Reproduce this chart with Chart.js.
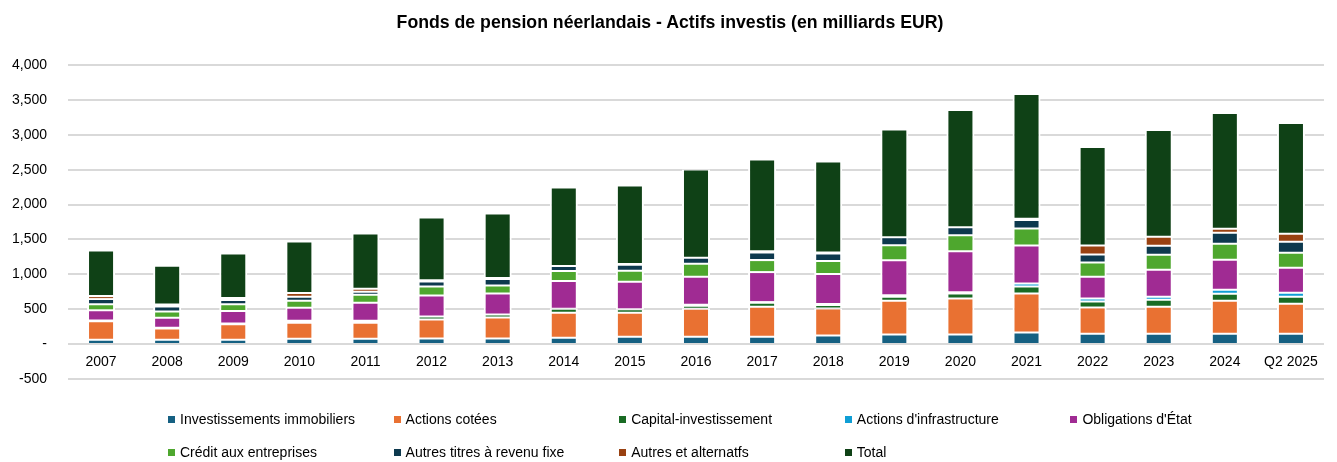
<!DOCTYPE html>
<html>
<head>
<meta charset="utf-8">
<script src="https://cdn.jsdelivr.net/npm/chart.js@4.4.1/dist/chart.umd.min.js"></script>
<style>
  html, body { margin: 0; padding: 0; background: #fff; }
  #wrap { position: relative; width: 1337px; height: 462px; }
  #overlay { position: absolute; left: 0; top: 0; width: 1337px; height: 462px; pointer-events: none;
    font-family: "Liberation Sans", Arial, sans-serif; font-size: 14px; color: #000; }
  #title { position: absolute; left: 670px; top: 22px; transform: translate(-50%, -50%);
    font-weight: bold; font-size: 17.7px; white-space: nowrap; }
  .item { position: absolute; display: flex; align-items: center; white-space: nowrap; transform: translateY(-50%); }
  .item span.box { display: inline-block; width: 7px; height: 7px; margin-right: 5px; }
</style>
</head>
<body>
<div id="wrap">
  <canvas id="fonds" width="1337" height="462"></canvas>
  <div id="overlay">
    <div id="title">Fonds de pension néerlandais - Actifs investis (en milliards EUR)</div>
  </div>
</div>
<script>
const categories = ['2007', '2008', '2009', '2010', '2011', '2012', '2013', '2014', '2015', '2016',
  '2017', '2018', '2019', '2020', '2021', '2022', '2023', '2024', 'Q2 2025'];

// milliards EUR
const immobilier = [62, 63, 62, 76, 76, 79, 79, 90, 105, 105, 105, 122, 136, 136, 165, 150, 150, 150, 150];
const actionsCotees = [265, 160, 222, 229, 229, 272, 301, 358, 344, 401, 430, 387, 487, 516, 559, 373, 387, 473, 430];
const capitalInv = [10, 10, 10, 29, 29, 43, 43, 57, 50, 43, 57, 50, 57, 72, 100, 86, 100, 100, 100];
const infrastructure = [0, 0, 0, 0, 0, 0, 0, 0, 0, 15, 10, 15, 20, 20, 43, 43, 43, 57, 57];
const obligationsEtat = [150, 146, 179, 186, 258, 301, 301, 401, 394, 401, 430, 430, 502, 588, 545, 315, 387, 430, 358];
const creditEntreprises = [83, 87, 97, 100, 115, 129, 115, 143, 158, 186, 172, 186, 215, 229, 244, 201, 215, 229, 215];
const autresRevenuFixe = [75, 73, 62, 57, 43, 72, 93, 72, 86, 86, 108, 108, 115, 115, 122, 115, 129, 158, 158];
const autresAlternatifs = [43, 29, 29, 55, 43, 20, 15, 0, 10, 0, 20, 15, 0, 0, 20, 129, 129, 57, 115];
const total = [655, 555, 636, 738, 791, 898, 924, 1123, 1125, 1265, 1313, 1303, 1543, 1678, 1786, 1412, 1527, 1657, 1585];

const seriesNames = ['Investissements immobiliers', 'Actions cotées', 'Capital-investissement',
  "Actions d'infrastructure", "Obligations d'État", 'Crédit aux entreprises',
  'Autres titres à revenu fixe', 'Autres et alternatfs', 'Total'];
const seriesData = [immobilier, actionsCotees, capitalInv, infrastructure, obligationsEtat,
  creditEntreprises, autresRevenuFixe, autresAlternatifs, total];
const seriesColors = ['#156082', '#E97132', '#196B24', '#0F9ED5', '#A02B93',
  '#4EA72E', '#0D394E', '#994111', '#0F4116'];

const font = "'Liberation Sans', Arial, sans-serif";

const datasets = seriesNames.map(function(name, i) {
  return {
    label: name,
    data: seriesData[i],
    backgroundColor: seriesColors[i],
    borderColor: '#ffffff',
    borderWidth: i === 0 ? {top: 1, bottom: 0, left: 2, right: 2} : {top: 1, bottom: 1, left: 2, right: 2},
    borderSkipped: false,
    barPercentage: 0.424,
    categoryPercentage: 1.0
  };
});

// les libelles des annees sont places entre la ligne 0 et la ligne -500
const categoryLabels = {
  id: 'categoryLabels',
  afterDraw(chart) {
    const c = chart.ctx;
    const xs = chart.scales.x;
    const ys = chart.scales.y;
    const y = (ys.getPixelForValue(0) + ys.getPixelForValue(-500)) / 2 + 1;
    c.save();
    c.fillStyle = '#000';
    c.font = '14px ' + font;
    c.textAlign = 'center';
    c.textBaseline = 'middle';
    categories.forEach(function(label, i) {
      c.fillText(label, xs.getPixelForValue(i), y);
    });
    c.restore();
  }
};

const ctx = document.getElementById('fonds').getContext('2d');
const chart = new Chart(ctx, {
  type: 'bar',
  data: { labels: categories, datasets: datasets },
  plugins: [categoryLabels],
  options: {
    responsive: false,
    animation: false,
    devicePixelRatio: 1,
    layout: { padding: { left: 0, right: 13, top: 65, bottom: 0 } },
    plugins: {
      legend: { display: false },
      tooltip: { enabled: false },
      title: { display: false }
    },
    scales: {
      x: {
        stacked: true,
        grid: { display: false, drawTicks: false },
        border: { display: false },
        ticks: { display: false },
        afterFit: function(scale) { scale.height = 83; }
      },
      y: {
        stacked: true,
        min: -500,
        max: 4000,
        grid: { color: '#d9d9d9', lineWidth: 2, drawTicks: false },
        border: { display: false },
        ticks: {
          stepSize: 500,
          color: '#000',
          font: { family: font, size: 14 },
          padding: 21,
          callback: function(v) {
            if (v === 0) return '-';
            return v.toLocaleString('en-US');
          }
        },
        afterFit: function(scale) { scale.width = 68; }
      }
    }
  }
});

// legende en deux lignes, colonnes fixes
const overlay = document.getElementById('overlay');
seriesNames.forEach(function(name, i) {
  const col = i % 5;
  const row = Math.floor(i / 5);
  const item = document.createElement('div');
  item.className = 'item';
  item.style.left = (168 + col * 225.6) + 'px';
  item.style.top = (419 + row * 33) + 'px';
  const box = document.createElement('span');
  box.className = 'box';
  box.style.background = seriesColors[i];
  item.appendChild(box);
  item.appendChild(document.createTextNode(name));
  overlay.appendChild(item);
});
</script>
</body>
</html>
